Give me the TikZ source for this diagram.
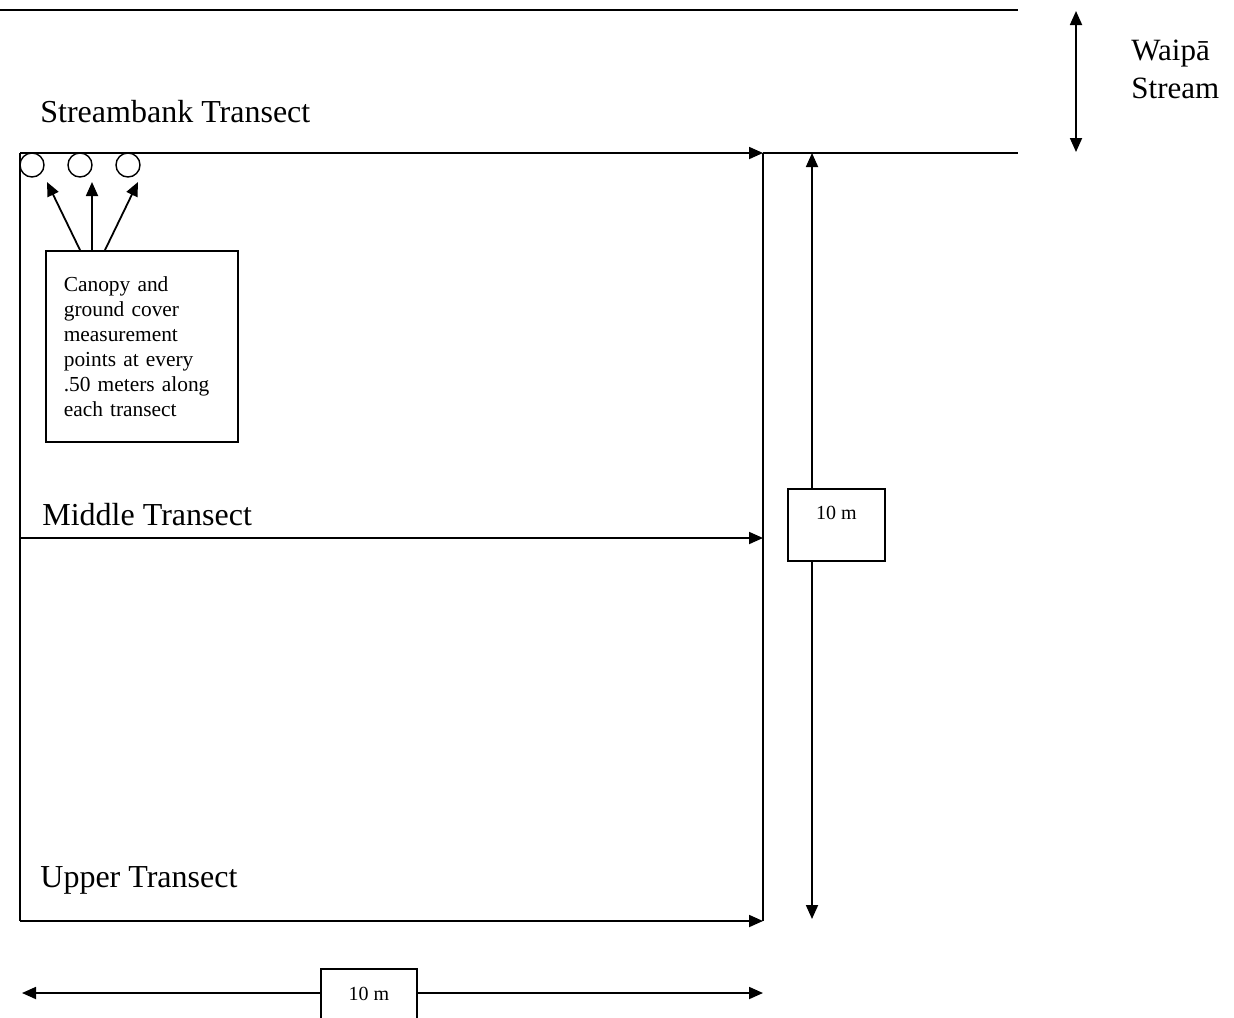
\documentclass[tikz,border=0pt]{standalone}
\usepackage{fontspec}
\setmainfont{Liberation Serif}
\usetikzlibrary{arrows.meta,calc}

\tikzset{
  ln/.style={line width=0.9pt},
  tip/.style={ln,-{Triangle[length=7pt,width=6pt]}},
  dtip/.style={ln,{Triangle[length=7pt,width=6pt]}-{Triangle[length=7pt,width=6pt]}},
  pt/.style={draw,circle,line width=0.7pt,minimum size=12pt,inner sep=0pt},
  lbl/.style={anchor=base west,font=\fontsize{16}{19}\selectfont,inner sep=0pt},
  tagbox/.style={draw,fill=white,line width=0.8pt,font=\fontsize{10}{12}\selectfont}
}

\begin{document}
\begin{tikzpicture}[x=0.5pt,y=-0.5pt]
                \useasboundingbox (0,0) rectangle (1234,1017);
                % plot corners
                \coordinate (TL) at (20,153);
                \coordinate (TR) at (763,153);
                \coordinate (ML) at (20,538);
                \coordinate (MR) at (763,538);
                \coordinate (BL) at (20,921);
                \coordinate (BR) at (763,921);
                \coordinate (SE) at (1018,153);
                \coordinate (S0) at (0,10);
                \coordinate (S1) at (1018,10);

                \node[lbl] (sbank) at (40,122) {Streambank Transect};
                \node[lbl] (mid) at (42,525) {Middle Transect};
                \node[lbl] (upp) at (40,887) {Upper Transect};
                \node[anchor=north west,align=left,inner sep=0pt,
                      font=\fontsize{15.5}{19}\selectfont] (wai) at (1131,40) {Waipā\\Stream};

                \node[pt] (c1) at (32,165) {};
                \node[pt] (c2) at (80,165) {};
                \node[pt] (c3) at (128,165) {};

                \node[draw,line width=0.8pt,anchor=north west,minimum width=96pt,minimum height=95.5pt,
                      text width=78pt,align=left,inner xsep=9pt,
                      font=\fontsize{10.7}{12.5}\selectfont] (cbox) at (45,250)
                      {Canopy and\\ground cover\\measurement\\points at every\\.50 meters along\\each transect\\[4pt]};

                \coordinate (a1) at (47,182);
                \coordinate (a2) at (92,182);
                \coordinate (a3) at (138,182);

                \path[ln]
                (S0) edge (S1)
                (TR) edge (SE)
                (TL) edge (BL)
                (TR) edge (BR);
                \path[tip]
                (TL) edge (TR)
                (ML) edge (MR)
                (BL) edge (BR)
                ($(cbox.north west)+(35,0)$) edge (a1)
                ($(cbox.north west)+(47,0)$) edge (a2)
                ($(cbox.north west)+(60,0)$) edge (a3);

                % dimensions
                \coordinate (v0) at (812,153);
                \coordinate (v1) at (812,919);
                \coordinate (h0) at (22,993);
                \coordinate (h1) at (763,993);
                \coordinate (w0) at (1076,11);
                \coordinate (w1) at (1076,152);
                \path[dtip]
                (v0) edge (v1)
                (h0) edge (h1)
                (w0) edge (w1);
                \node[tagbox,minimum width=48.5pt,minimum height=36pt,text depth=12pt] (tenv) at (836.5,525) {10 m};
                \node[tagbox,minimum width=48pt,minimum height=25pt] (tenh) at (369,994) {10 m};
                \end{tikzpicture}
\end{document}
